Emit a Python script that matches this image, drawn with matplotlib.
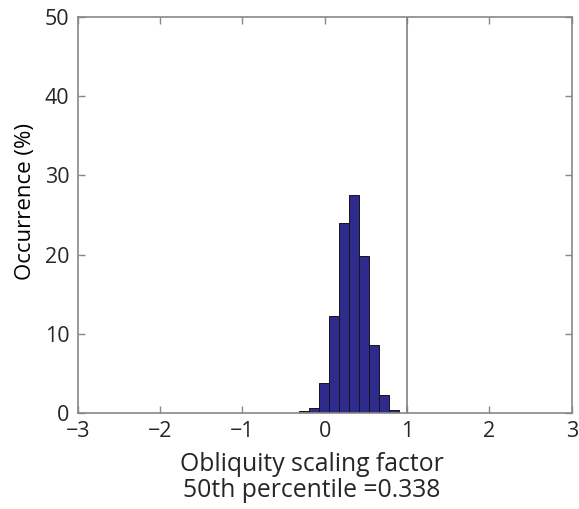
import numpy as np
import matplotlib
matplotlib.use('Agg')
import matplotlib.pyplot as plt

# bin edges and occurrence (%)
bin_edges = [-0.309, -0.187, -0.066, 0.056, 0.177, 0.299, 0.420, 0.542, 0.664, 0.785, 0.906]
occurrence = [0.2, 0.6, 3.8, 12.2, 24.0, 27.5, 19.8, 8.6, 2.3, 0.4]
median_value = 0.338
ref_line_x = 1.0

x_ticks = [-3, -2, -1, 0, 1, 2, 3]
y_ticks = [0, 10, 20, 30, 40, 50]

plt.rcParams['font.family'] = ['Open Sans', 'DejaVu Sans']

fig = plt.figure(figsize=(5.79, 5.09), dpi=100)
ax = fig.add_axes([0.1342, 0.1892, 0.8532, 0.7768])

edges = np.array(bin_edges)
ax.bar(edges[:-1], occurrence, width=np.diff(edges), align='edge',
       color='#2f2b8c', edgecolor='#151515', linewidth=0.7, zorder=2)

ax.axvline(ref_line_x, color='#808080', linewidth=1.2, zorder=3)

ax.set_xlim(-3, 3)
ax.set_ylim(0, 50)
ax.set_xticks(x_ticks)
ax.set_xticklabels([str(t).replace('-', '\u2212') for t in x_ticks])
ax.set_yticks(y_ticks)

for side in ax.spines.values():
    side.set_color('#888888')
    side.set_linewidth(1.2)

ax.tick_params(direction='in', length=5, width=1, color='#888888',
               labelsize=15.5, labelcolor='#262626', top=True, right=True, pad=6)

ax.set_xlabel('Obliquity scaling factor\n50th percentile =%.3f' % median_value,
              fontsize=17.8, color='#262626', linespacing=1.05)
ax.xaxis.set_label_coords(0.474, -0.1, transform=ax.transAxes)
ax.xaxis.label.set_va('top')
ax.set_ylabel('Occurrence (%)', fontsize=16, color='black')
ax.yaxis.set_label_coords(-0.085, 0.534)

fig.savefig('out.png', dpi=100)
